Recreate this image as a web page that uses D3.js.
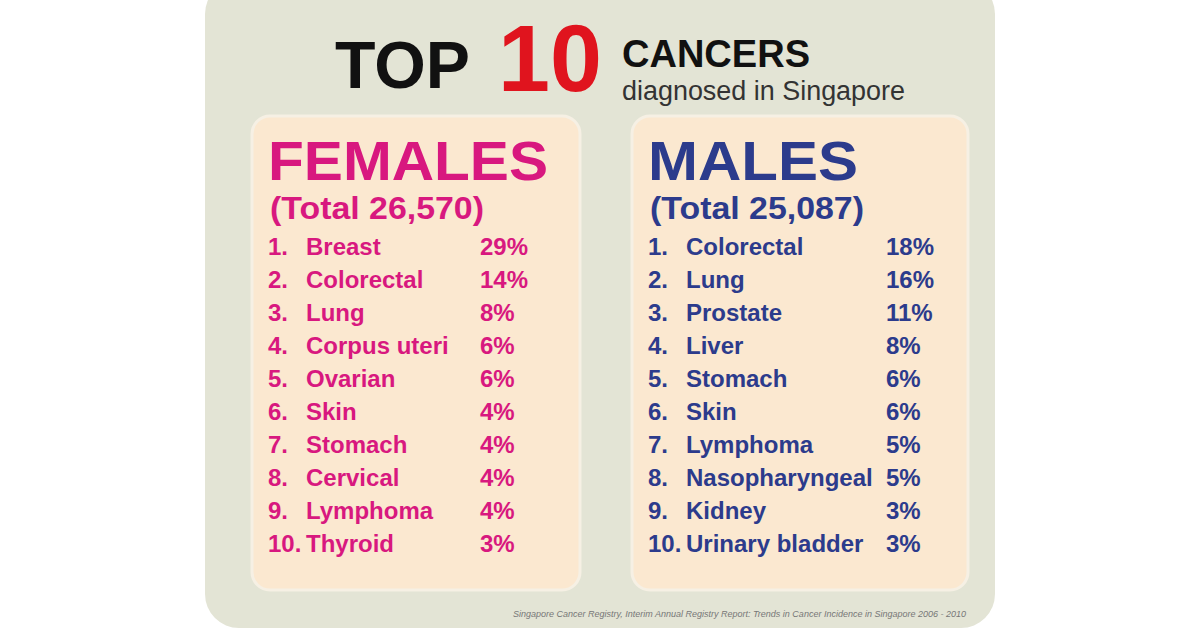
<!DOCTYPE html>
<html><head><meta charset="utf-8">
<script src="https://cdn.jsdelivr.net/npm/d3@7"></script>
<style>body{margin:0;background:#fff}svg{display:block}</style>
</head><body>
<svg id="chart" width="1200" height="630"></svg>
<script>
var femaleNames=["Breast","Colorectal","Lung","Corpus uteri","Ovarian","Skin","Stomach","Cervical","Lymphoma","Thyroid"];
var femaleValues=[29,14,8,6,6,4,4,4,4,3];
var maleNames=["Colorectal","Lung","Prostate","Liver","Stomach","Skin","Lymphoma","Nasopharyngeal","Kidney","Urinary bladder"];
var maleValues=[18,16,11,8,6,6,5,5,3,3];
var totals=[26570,25087];

var svg=d3.select("#chart");
var narrow="'Liberation Sans Narrow','Arial Narrow','Liberation Sans',sans-serif";
var fmt=d3.format(",");

svg.append("rect").attr("x",205).attr("y",-20).attr("width",790).attr("height",648)
  .attr("rx",34).attr("fill","#e3e4d5");

function squash(sel,len){return sel.attr("textLength",len).attr("lengthAdjust","spacingAndGlyphs");}

// title
squash(svg.append("text").attr("x",335).attr("y",88).attr("font-family",narrow).attr("font-weight","bold")
  .attr("font-size",66).attr("fill","#111").text("TOP"),135);
squash(svg.append("text").attr("x",498).attr("y",91).attr("font-family",narrow).attr("font-weight","bold")
  .attr("font-size",94).attr("fill","#e0141e").text("10"),104);
squash(svg.append("text").attr("x",622).attr("y",67).attr("font-family",narrow).attr("font-weight","bold")
  .attr("font-size",38).attr("fill","#111").text("CANCERS"),188);
squash(svg.append("text").attr("x",622).attr("y",100).attr("font-family",narrow)
  .attr("font-size",27).attr("fill","#333").text("diagnosed in Singapore"),283);

var rows=d3.scaleBand().domain(d3.range(10)).range([230,560]);

function panel(x0,w,title,titleLen,total,names,values,color,pctX){
  svg.append("rect").attr("x",x0).attr("y",116).attr("width",w).attr("height",474)
    .attr("rx",18).attr("fill","#fbe8d0").attr("stroke","#f6f0e4").attr("stroke-width",3);
  squash(svg.append("text").attr("x",x0+16).attr("y",180).attr("font-family",narrow).attr("font-weight","bold")
    .attr("font-size",56).attr("fill",color).text(title),titleLen);
  squash(svg.append("text").attr("x",x0+18).attr("y",219).attr("font-family",narrow).attr("font-weight","bold")
    .attr("font-size",31).attr("fill",color).text("(Total "+fmt(total)+")"),214);
  var g=svg.append("g").attr("font-family",narrow).attr("font-weight","bold").attr("font-size",24).attr("fill",color);
  var r=g.selectAll("g").data(names).join("g")
    .attr("transform",function(d,i){return "translate(0,"+(rows(i)+rows.bandwidth()*0.75)+")";});
  r.append("text").attr("x",x0+16).text(function(d,i){return (i+1)+".";});
  r.append("text").attr("x",x0+54).text(function(d){return d;});
  r.append("text").attr("x",pctX).text(function(d,i){return values[i]+"%";});
}
panel(252,328,"FEMALES",280,totals[0],femaleNames,femaleValues,"#d8187f",480);
panel(632,336,"MALES",210,totals[1],maleNames,maleValues,"#2c3b8c",886);

svg.append("text").attr("x",966).attr("y",617).attr("text-anchor","end").attr("font-family",narrow)
  .attr("font-style","italic").attr("font-size",9).attr("fill","#777")
  .text("Singapore Cancer Registry, Interim Annual Registry Report: Trends in Cancer Incidence in Singapore 2006 - 2010");
</script>
</body></html>
